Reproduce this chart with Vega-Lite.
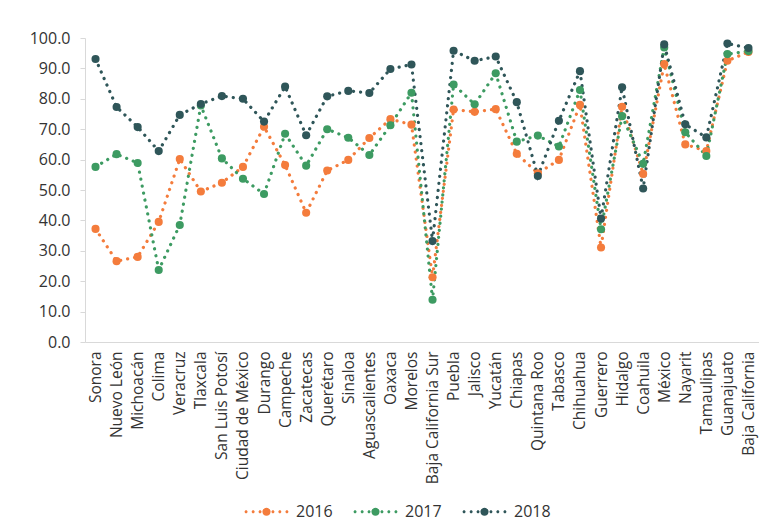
{
  "$schema": "https://vega.github.io/schema/vega-lite/v6.json",
  "autosize": {"type": "none"},
  "padding": {"left": 85, "top": 38, "right": 0, "bottom": 178},
  "width": 674,
  "height": 304,
  "background": "white",
  "config": {
    "font": "Open Sans",
    "view": {"stroke": null},
    "axis": {"grid": false, "domainColor": "#D9D9D9", "tickColor": "#D9D9D9", "labelColor": "#333333", "labelFont": "Open Sans"},
    "legend": {"labelFont": "Open Sans"}
  },
  "data": {
    "values": [
      {"state": "Sonora", "year": "2016", "value": 37.2}, {"state": "Sonora", "year": "2017", "value": 57.6}, {"state": "Sonora", "year": "2018", "value": 93.1},
      {"state": "Nuevo León", "year": "2016", "value": 26.6}, {"state": "Nuevo León", "year": "2017", "value": 61.8}, {"state": "Nuevo León", "year": "2018", "value": 77.3},
      {"state": "Michoacán", "year": "2016", "value": 28.0}, {"state": "Michoacán", "year": "2017", "value": 58.9}, {"state": "Michoacán", "year": "2018", "value": 70.7},
      {"state": "Colima", "year": "2016", "value": 39.5}, {"state": "Colima", "year": "2017", "value": 23.7}, {"state": "Colima", "year": "2018", "value": 62.8},
      {"state": "Veracruz", "year": "2016", "value": 60.2}, {"state": "Veracruz", "year": "2017", "value": 38.5}, {"state": "Veracruz", "year": "2018", "value": 74.7},
      {"state": "Tlaxcala", "year": "2016", "value": 49.5}, {"state": "Tlaxcala", "year": "2017", "value": 77.8}, {"state": "Tlaxcala", "year": "2018", "value": 78.3},
      {"state": "San Luis Potosí", "year": "2016", "value": 52.4}, {"state": "San Luis Potosí", "year": "2017", "value": 60.4}, {"state": "San Luis Potosí", "year": "2018", "value": 80.9},
      {"state": "Ciudad de México", "year": "2016", "value": 57.6}, {"state": "Ciudad de México", "year": "2017", "value": 53.7}, {"state": "Ciudad de México", "year": "2018", "value": 80.0},
      {"state": "Durango", "year": "2016", "value": 70.8}, {"state": "Durango", "year": "2017", "value": 48.7}, {"state": "Durango", "year": "2018", "value": 72.5},
      {"state": "Campeche", "year": "2016", "value": 58.2}, {"state": "Campeche", "year": "2017", "value": 68.5}, {"state": "Campeche", "year": "2018", "value": 84.0},
      {"state": "Zacatecas", "year": "2016", "value": 42.5}, {"state": "Zacatecas", "year": "2017", "value": 58.0}, {"state": "Zacatecas", "year": "2018", "value": 68.0},
      {"state": "Querétaro", "year": "2016", "value": 56.4}, {"state": "Querétaro", "year": "2017", "value": 70.0}, {"state": "Querétaro", "year": "2018", "value": 80.8},
      {"state": "Sinaloa", "year": "2016", "value": 59.9}, {"state": "Sinaloa", "year": "2017", "value": 67.2}, {"state": "Sinaloa", "year": "2018", "value": 82.6},
      {"state": "Aguascalientes", "year": "2016", "value": 67.1}, {"state": "Aguascalientes", "year": "2017", "value": 61.5}, {"state": "Aguascalientes", "year": "2018", "value": 81.9},
      {"state": "Oaxaca", "year": "2016", "value": 73.3}, {"state": "Oaxaca", "year": "2017", "value": 71.3}, {"state": "Oaxaca", "year": "2018", "value": 89.8},
      {"state": "Morelos", "year": "2016", "value": 71.5}, {"state": "Morelos", "year": "2017", "value": 82.0}, {"state": "Morelos", "year": "2018", "value": 91.3},
      {"state": "Baja California Sur", "year": "2016", "value": 21.3}, {"state": "Baja California Sur", "year": "2017", "value": 13.9}, {"state": "Baja California Sur", "year": "2018", "value": 33.2},
      {"state": "Puebla", "year": "2016", "value": 76.5}, {"state": "Puebla", "year": "2017", "value": 84.7}, {"state": "Puebla", "year": "2018", "value": 95.8},
      {"state": "Jalisco", "year": "2016", "value": 75.7}, {"state": "Jalisco", "year": "2017", "value": 78.2}, {"state": "Jalisco", "year": "2018", "value": 92.5},
      {"state": "Yucatán", "year": "2016", "value": 76.6}, {"state": "Yucatán", "year": "2017", "value": 88.4}, {"state": "Yucatán", "year": "2018", "value": 93.9},
      {"state": "Chiapas", "year": "2016", "value": 61.9}, {"state": "Chiapas", "year": "2017", "value": 65.9}, {"state": "Chiapas", "year": "2018", "value": 78.9},
      {"state": "Quintana Roo", "year": "2016", "value": 55.5}, {"state": "Quintana Roo", "year": "2017", "value": 67.9}, {"state": "Quintana Roo", "year": "2018", "value": 54.6},
      {"state": "Tabasco", "year": "2016", "value": 59.9}, {"state": "Tabasco", "year": "2017", "value": 64.3}, {"state": "Tabasco", "year": "2018", "value": 72.8},
      {"state": "Chihuahua", "year": "2016", "value": 78.0}, {"state": "Chihuahua", "year": "2017", "value": 82.9}, {"state": "Chihuahua", "year": "2018", "value": 89.1},
      {"state": "Guerrero", "year": "2016", "value": 31.1}, {"state": "Guerrero", "year": "2017", "value": 37.1}, {"state": "Guerrero", "year": "2018", "value": 40.6},
      {"state": "Hidalgo", "year": "2016", "value": 77.4}, {"state": "Hidalgo", "year": "2017", "value": 74.3}, {"state": "Hidalgo", "year": "2018", "value": 83.8},
      {"state": "Coahuila", "year": "2016", "value": 55.3}, {"state": "Coahuila", "year": "2017", "value": 58.6}, {"state": "Coahuila", "year": "2018", "value": 50.5},
      {"state": "México", "year": "2016", "value": 91.4}, {"state": "México", "year": "2017", "value": 96.9}, {"state": "México", "year": "2018", "value": 97.9},
      {"state": "Nayarit", "year": "2016", "value": 65.0}, {"state": "Nayarit", "year": "2017", "value": 69.0}, {"state": "Nayarit", "year": "2018", "value": 71.6},
      {"state": "Tamaulipas", "year": "2016", "value": 62.8}, {"state": "Tamaulipas", "year": "2017", "value": 61.2}, {"state": "Tamaulipas", "year": "2018", "value": 67.3},
      {"state": "Guanajuato", "year": "2016", "value": 92.5}, {"state": "Guanajuato", "year": "2017", "value": 94.7}, {"state": "Guanajuato", "year": "2018", "value": 98.2},
      {"state": "Baja California", "year": "2016", "value": 95.4}, {"state": "Baja California", "year": "2017", "value": 95.7}, {"state": "Baja California", "year": "2018", "value": 96.7}
    ]
  },
  "encoding": {
    "x": {
      "field": "state", "type": "nominal", "sort": null,
      "scale": {"type": "point", "padding": 0.5},
      "axis": {"title": null, "labelAngle": -90, "labelFontSize": 15.5, "ticks": false, "labelPadding": 9}
    },
    "y": {
      "field": "value", "type": "quantitative",
      "scale": {"domain": [0, 100], "nice": false, "zero": true},
      "axis": {"title": null, "values": [0, 10, 20, 30, 40, 50, 60, 70, 80, 90, 100], "format": ".1f", "labelFontSize": 16, "tickSize": 5, "labelPadding": 10}
    },
    "color": {
      "field": "year", "type": "nominal",
      "scale": {"domain": ["2016", "2017", "2018"], "range": ["#F47C3C", "#3D9B62", "#2F5659"]},
      "legend": {
        "title": null, "orient": "none", "direction": "horizontal",
        "legendX": 160, "legendY": 452, "padding": 0,
        "labelFontSize": 16, "labelColor": "#333333", "labelOffset": 8, "columnPadding": 20,
        "symbolSize": 1849,
        "symbolType": "M-1.02,0a0.07,0.07 0 1,0 0.14,0a0.07,0.07 0 1,0 -0.14,0M-0.69,0a0.07,0.07 0 1,0 0.14,0a0.07,0.07 0 1,0 -0.14,0M-0.37,0a0.07,0.07 0 1,0 0.14,0a0.07,0.07 0 1,0 -0.14,0M-0.19,0a0.19,0.19 0 1,0 0.38,0a0.19,0.19 0 1,0 -0.38,0M0.23,0a0.07,0.07 0 1,0 0.14,0a0.07,0.07 0 1,0 -0.14,0M0.55,0a0.07,0.07 0 1,0 0.14,0a0.07,0.07 0 1,0 -0.14,0M0.88,0a0.07,0.07 0 1,0 0.14,0a0.07,0.07 0 1,0 -0.14,0",
        "encode": {"symbols": {"update": {"fill": {"scale": "color", "field": "value"}, "stroke": {"value": "transparent"}, "strokeWidth": {"value": 0}, "opacity": {"value": 1}, "fillOpacity": {"value": 1}}}}
      }
    }
  },
  "layer": [
    {"mark": {"type": "line", "strokeWidth": 3.2, "strokeDash": [0.1, 7], "strokeCap": "round"}},
    {"mark": {"type": "point", "filled": true, "size": 66, "opacity": 1, "shape": "circle"}}
  ]
}
